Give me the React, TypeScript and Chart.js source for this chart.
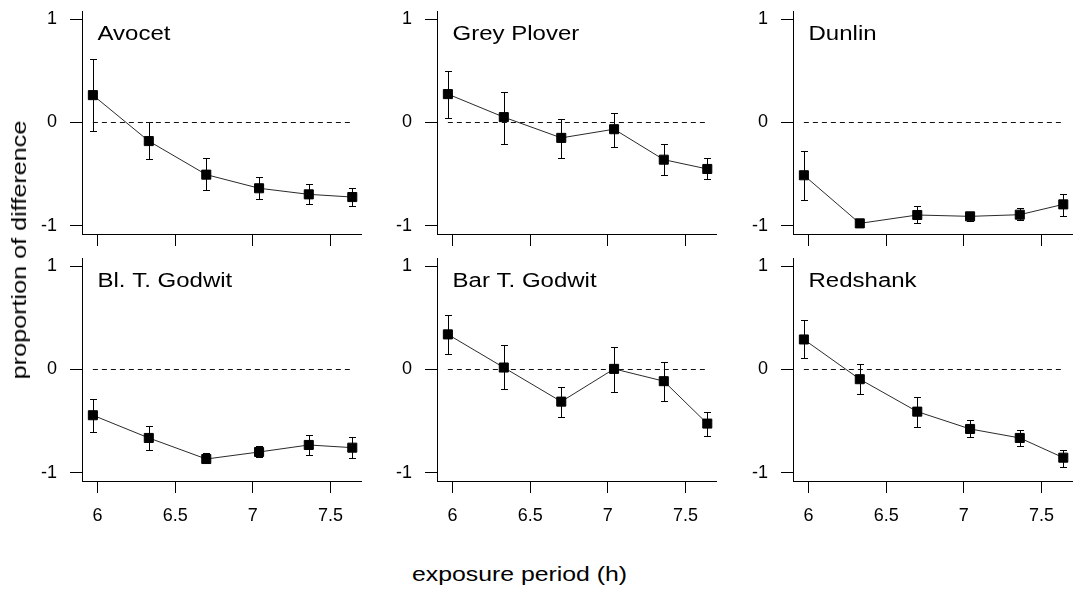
import React, { useEffect, useRef } from "react";
import { Chart, registerables } from "chart.js";

Chart.register(...registerables);

// ---------- data ----------
const exposureHours = [5.97, 6.33, 6.7, 7.04, 7.36, 7.64];
const xTickValues = [6, 6.5, 7, 7.5];
const yTickValues = [-1, 0, 1];
const referenceLevel = 0;

const speciesNames = ["Avocet", "Grey Plover", "Dunlin", "Bl. T. Godwit", "Bar T. Godwit", "Redshank"];

const avocetMean = [0.265, -0.18, -0.505, -0.637, -0.696, -0.722];
const avocetLower = [-0.078, -0.356, -0.65, -0.741, -0.793, -0.809];
const avocetUpper = [0.615, 0.006, -0.346, -0.527, -0.592, -0.634];

const greyPloverMean = [0.275, 0.052, -0.149, -0.065, -0.36, -0.45];
const greyPloverLower = [0.039, -0.204, -0.343, -0.233, -0.508, -0.547];
const greyPloverUpper = [0.5, 0.3, 0.036, 0.094, -0.207, -0.346];

const dunlinMean = [-0.511, -0.977, -0.896, -0.909, -0.893, -0.793];
const dunlinLower = [-0.75, -1.0, -0.974, -0.955, -0.94, -0.909];
const dunlinUpper = [-0.278, -0.955, -0.81, -0.872, -0.828, -0.692];

const blackTailedMean = [-0.443, -0.663, -0.867, -0.799, -0.731, -0.757];
const blackTailedLower = [-0.602, -0.777, -0.906, -0.848, -0.825, -0.858];
const blackTailedUpper = [-0.282, -0.544, -0.812, -0.744, -0.634, -0.657];

const barTailedMean = [0.34, 0.019, -0.311, 0.006, -0.113, -0.524];
const barTailedLower = [0.152, -0.188, -0.463, -0.22, -0.301, -0.647];
const barTailedUpper = [0.527, 0.233, -0.172, 0.214, 0.071, -0.414];

const redshankMean = [0.291, -0.094, -0.408, -0.576, -0.663, -0.854];
const redshankLower = [0.113, -0.233, -0.553, -0.654, -0.74, -0.94];
const redshankUpper = [0.476, 0.055, -0.262, -0.485, -0.589, -0.777];

const xAxisTitle = "exposure period (h)";
const yAxisTitle = "proportion of difference";

// ---------- layout ----------
const FONT = '"Liberation Sans", Arial, Helvetica, sans-serif';
const AREA_LEFTS = [82, 437, 793];
const AREA_TOPS = [11, 258];
const AREA_W = 281;
const AREA_H = 223;
const Y_AXIS_W = 60;
const PAD_TOP = 28;
const PAD_RIGHT = 6;

const errorBarPlugin = {
  id: "errorBars",
  beforeDatasetsDraw(chart: any, _args: any, opts: any) {
    const { ctx } = chart;
    const xs = chart.scales.x;
    const ys = chart.scales.y;
    const { xValues, lower, upper } = opts;
    if (!xValues) return;
    ctx.save();
    ctx.strokeStyle = "#000";
    ctx.lineWidth = 1;
    ctx.beginPath();
    xValues.forEach((xv: number, i: number) => {
      const px = Math.round(xs.getPixelForValue(xv)) + 0.5;
      const pl = Math.round(ys.getPixelForValue(lower[i])) + 0.5;
      const pu = Math.round(ys.getPixelForValue(upper[i])) + 0.5;
      ctx.moveTo(px, pl);
      ctx.lineTo(px, pu);
      ctx.moveTo(px - 3.5, pl);
      ctx.lineTo(px + 3.5, pl);
      ctx.moveTo(px - 3.5, pu);
      ctx.lineTo(px + 3.5, pu);
    });
    ctx.stroke();
    ctx.restore();
  },
};

const panelTitlePlugin = {
  id: "panelTitle",
  afterDraw(chart: any, _args: any, opts: any) {
    if (!opts.text) return;
    const { ctx } = chart;
    const px = chart.scales.x.getPixelForValue(opts.xValue);
    const py = chart.scales.y.getPixelForValue(opts.yValue);
    ctx.save();
    ctx.fillStyle = "#000";
    ctx.font = `20px ${FONT}`;
    ctx.textAlign = "left";
    ctx.textBaseline = "alphabetic";
    ctx.translate(px, py);
    ctx.scale(1.2, 1);
    ctx.fillText(opts.text, 0, 0);
    ctx.restore();
  },
};

type PanelProps = {
  col: number;
  row: number;
  title: string;
  mean: number[];
  lower: number[];
  upper: number[];
};

function Panel({ col, row, title, mean, lower, upper }: PanelProps) {
  const ref = useRef<HTMLCanvasElement>(null);
  const xAxisH = row === 1 ? 50 : 14;
  const padBottom = row === 1 ? 0 : 14;
  const width = Y_AXIS_W + AREA_W + PAD_RIGHT;
  const height = PAD_TOP + AREA_H + xAxisH + padBottom;

  useEffect(() => {
    if (!ref.current) return;
    const showXLabels = row === 1;
    const chart = new Chart(ref.current, {
      type: "line",
      data: {
        datasets: [
          {
            data: exposureHours.map((x, i) => ({ x, y: mean[i] })),
            borderColor: "#2a2a2a",
            borderWidth: 1,
            pointStyle: "rect",
            pointRadius: 6.4,
            pointBackgroundColor: "#000",
            pointBorderColor: "#000",
            pointBorderWidth: 1,
            tension: 0,
          },
          {
            data: [
              { x: exposureHours[0], y: referenceLevel },
              { x: exposureHours[exposureHours.length - 1], y: referenceLevel },
            ],
            borderColor: "#111",
            borderWidth: 1,
            borderDash: [5, 4],
            pointRadius: 0,
          },
        ],
      },
      options: {
        animation: false,
        responsive: false,
        events: [],
        layout: { padding: { top: PAD_TOP, right: PAD_RIGHT, bottom: padBottom, left: 0 } },
        plugins: {
          legend: { display: false },
          tooltip: { enabled: false },
          errorBars: { xValues: exposureHours, lower, upper },
          panelTitle: { text: title, xValue: xTickValues[0], yValue: 0.8 },
        } as any,
        scales: {
          x: {
            type: "linear",
            min: 5.9,
            max: 7.7,
            afterBuildTicks: (s: any) => {
              s.ticks = xTickValues.map((v) => ({ value: v }));
            },
            afterFit: (s: any) => {
              s.height = xAxisH;
            },
            grid: { drawOnChartArea: false, drawTicks: true, tickLength: 12, color: "#000", lineWidth: 1 },
            border: { display: true, color: "#000", width: 1 },
            ticks: {
              display: showXLabels,
              padding: 12,
              color: "#000",
              font: { family: FONT, size: 18 },
              maxRotation: 0,
              autoSkip: false,
              callback: (v: any) => String(v),
            },
          },
          y: {
            type: "linear",
            min: -1.08,
            max: 1.08,
            afterBuildTicks: (s: any) => {
              s.ticks = yTickValues.map((v) => ({ value: v }));
            },
            afterFit: (s: any) => {
              s.width = Y_AXIS_W;
            },
            grid: { drawOnChartArea: false, drawTicks: true, tickLength: 12, color: "#000", lineWidth: 1 },
            border: { display: true, color: "#000", width: 1 },
            ticks: {
              padding: 13,
              color: "#000",
              font: { family: FONT, size: 18 },
              autoSkip: false,
              callback: (v: any) => String(v),
            },
          },
        },
      },
      plugins: [errorBarPlugin, panelTitlePlugin],
    } as any);
    return () => chart.destroy();
  }, []);

  return (
    <canvas
      ref={ref}
      width={width}
      height={height}
      style={{
        position: "absolute",
        left: AREA_LEFTS[col] - Y_AXIS_W,
        top: AREA_TOPS[row] - PAD_TOP,
        width,
        height,
      }}
    />
  );
}

const panels = [
  { title: speciesNames[0], mean: avocetMean, lower: avocetLower, upper: avocetUpper },
  { title: speciesNames[1], mean: greyPloverMean, lower: greyPloverLower, upper: greyPloverUpper },
  { title: speciesNames[2], mean: dunlinMean, lower: dunlinLower, upper: dunlinUpper },
  { title: speciesNames[3], mean: blackTailedMean, lower: blackTailedLower, upper: blackTailedUpper },
  { title: speciesNames[4], mean: barTailedMean, lower: barTailedLower, upper: barTailedUpper },
  { title: speciesNames[5], mean: redshankMean, lower: redshankLower, upper: redshankUpper },
];

export default function App() {
  return (
    <div
      style={{
        position: "fixed",
        left: 0,
        top: 0,
        width: 1075,
        height: 597,
        overflow: "hidden",
        background: "#fff",
      }}
    >
      {panels.map((p, i) => (
        <Panel key={i} col={i % 3} row={Math.floor(i / 3)} title={p.title} mean={p.mean} lower={p.lower} upper={p.upper} />
      ))}
      <div
        style={{
          position: "absolute",
          left: 412,
          top: 564,
          fontFamily: FONT,
          fontSize: 20,
          lineHeight: "20px",
          whiteSpace: "nowrap",
          color: "#000",
          transform: "scaleX(1.24)",
          transformOrigin: "left center",
        }}
      >
        {xAxisTitle}
      </div>
      <div
        style={{
          position: "absolute",
          left: 19 - 160,
          top: 250 - 10,
          width: 320,
          height: 20,
          textAlign: "center",
          fontFamily: FONT,
          fontSize: 20,
          lineHeight: "20px",
          whiteSpace: "nowrap",
          color: "#000",
          transform: "rotate(-90deg) scaleX(1.26)",
          transformOrigin: "center center",
        }}
      >
        {yAxisTitle}
      </div>
    </div>
  );
}
